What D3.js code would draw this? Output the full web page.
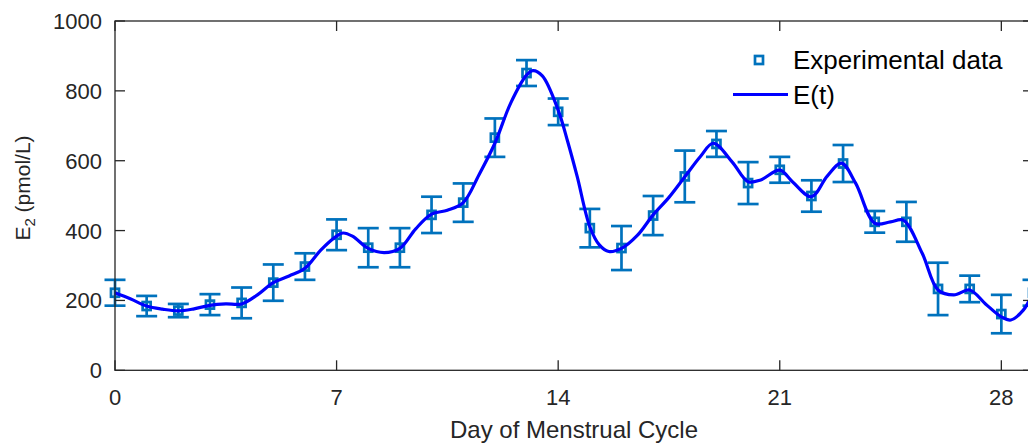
<!DOCTYPE html>
<html>
<head>
<meta charset="utf-8">
<script src="https://cdn.jsdelivr.net/npm/d3@7/dist/d3.min.js"></script>
<style>
  html, body { margin: 0; padding: 0; background: #fff; overflow: hidden; }
  svg { display: block; font-family: "Liberation Sans", Arial, Helvetica, sans-serif; }
</style>
</head>
<body>
<svg id="chart" width="1028" height="443"></svg>
<script>
// Measured estradiol (E2) by day of cycle, with error-bar half widths
const days = [0,1,2,3,4,5,6,7,8,9,10,11,12,13,14,15,16,17,18,19,20,21,22,23,24,25,26,27,28,29];
const e2Mean = [222,184,171,188,193,251,297,388,351,351,445,480,666,851,740,407,350,443,555,648,536,574,499,592,425,425,233,233,161,222];
const e2Err  = [37,29,19,30,44,52,38,44,56,56,52,55,55,37,38,55,63,56,74,37,60,37,45,53,31,57,75,38,55,37];

// Fitted model E(t)
const fitT = [0,0.5,1,1.5,2,2.5,3,3.5,4,4.5,5,5.5,6,6.5,7,7.2,7.5,8,8.5,9,9.5,10,10.5,11,11.5,12,12.5,13,13.2,13.5,14,14.3,14.6,15,15.3,15.6,16,16.5,17,17.5,18,18.5,18.9,19.5,20,20.4,21,21.4,22,22.5,22.95,23.4,24,24.5,24.9,25.5,26,26.5,27,27.5,28,28.3,28.7,29];
const fitE = [222,204,184,175,170,176,186,190,190,216,251,270,292,344,384,393,384,349,337,349,405,447,458,480,560,650,765,845,858,843,745,655,555,411,359,340,349,386,445,495,554,613,650,596,540,545,573,540,497,556,593,535,421,425,430,335,230,216,230,190,153,144,173,222];

const xTicks = [0,7,14,21,28];
const yTicks = [0,200,400,600,800,1000];
const legendLabels = ["Experimental data","E(t)"];

const axisColor = "#262626";
const dataColor = "#0072BD";
const fitColor = "#0000FF";

const svg = d3.select("#chart");
const plotL = 115, plotR = 1033, plotT = 21, plotB = 370.3;

const x = d3.scaleLinear().domain([0, 29]).range([plotL, plotR]);
const y = d3.scaleLinear().domain([0, 1000]).range([plotB, plotT]);

// Error bars
const eb = svg.append("g").attr("stroke", dataColor).attr("stroke-width", 2.7).attr("fill", "none");
const capHalf = 10.5;
days.forEach((d, i) => {
  const lo = y(e2Mean[i] - e2Err[i]), hi = y(e2Mean[i] + e2Err[i]), cx = x(d);
  eb.append("line").attr("x1", cx).attr("x2", cx).attr("y1", lo).attr("y2", hi);
  eb.append("line").attr("x1", cx - capHalf).attr("x2", cx + capHalf).attr("y1", lo).attr("y2", lo);
  eb.append("line").attr("x1", cx - capHalf).attr("x2", cx + capHalf).attr("y1", hi).attr("y2", hi);
});

// Square markers
const sq = 8;
svg.append("g").selectAll("rect").data(days).join("rect")
  .attr("x", (d) => x(d) - sq / 2)
  .attr("y", (d, i) => y(e2Mean[i]) - sq / 2)
  .attr("width", sq).attr("height", sq)
  .attr("fill", "none").attr("stroke", dataColor).attr("stroke-width", 2.7);

// Fitted curve
const fitPts = fitT.map((t, i) => [t, fitE[i]]);
svg.append("path")
  .datum(fitPts)
  .attr("fill", "none")
  .attr("stroke", fitColor)
  .attr("stroke-width", 3.2)
  .attr("stroke-linejoin", "round")
  .attr("d", d3.line().x((d) => x(d[0])).y((d) => y(d[1])).curve(d3.curveCatmullRom.alpha(0.5)));

// Axes box with inward ticks on all four sides
const tickLen = 10;
const ax = svg.append("g").attr("stroke", axisColor).attr("stroke-width", 1.3).attr("fill", "none");
ax.append("rect").attr("x", plotL).attr("y", plotT).attr("width", plotR - plotL).attr("height", plotB - plotT);
xTicks.forEach((t) => {
  ax.append("line").attr("x1", x(t)).attr("x2", x(t)).attr("y1", plotB).attr("y2", plotB - tickLen);
  ax.append("line").attr("x1", x(t)).attr("x2", x(t)).attr("y1", plotT).attr("y2", plotT + tickLen);
});
yTicks.forEach((t) => {
  ax.append("line").attr("x1", plotL).attr("x2", plotL + tickLen).attr("y1", y(t)).attr("y2", y(t));
  ax.append("line").attr("x1", plotR).attr("x2", plotR - tickLen).attr("y1", y(t)).attr("y2", y(t));
});

// Tick labels
const tickFont = 22;
svg.append("g").selectAll("text").data(xTicks).join("text")
  .attr("x", (d) => x(d)).attr("y", 405)
  .attr("text-anchor", "middle").attr("font-size", tickFont).attr("fill", axisColor)
  .text((d) => d);
svg.append("g").selectAll("text").data(yTicks).join("text")
  .attr("x", 102).attr("y", (d) => y(d))
  .attr("dy", "0.36em")
  .attr("text-anchor", "end").attr("font-size", tickFont).attr("fill", axisColor)
  .text((d) => d);

// Axis titles
svg.append("text")
  .attr("x", (plotL + plotR) / 2).attr("y", 438)
  .attr("text-anchor", "middle").attr("font-size", 24).attr("fill", axisColor)
  .text("Day of Menstrual Cycle");

const yl = svg.append("text")
  .attr("transform", "translate(30,188) rotate(-90)")
  .attr("text-anchor", "middle").attr("font-size", 21).attr("fill", axisColor);
yl.append("tspan").text("E");
yl.append("tspan").attr("font-size", 15).attr("dy", 5).text("2");
yl.append("tspan").attr("dy", -5).text(" (pmol/L)");

// Legend
const lg = svg.append("g");
lg.append("rect")
  .attr("x", 759 - sq / 2).attr("y", 60 - sq / 2).attr("width", sq).attr("height", sq)
  .attr("fill", "none").attr("stroke", dataColor).attr("stroke-width", 2.7);
lg.append("line")
  .attr("x1", 733).attr("x2", 788).attr("y1", 94.5).attr("y2", 94.5)
  .attr("stroke", fitColor).attr("stroke-width", 3.2);
lg.selectAll("text").data(legendLabels).join("text")
  .attr("x", 793).attr("y", (d, i) => i === 0 ? 69 : 104)
  .attr("font-size", 26).attr("fill", "#000")
  .text((d) => d);
</script>
</body>
</html>
